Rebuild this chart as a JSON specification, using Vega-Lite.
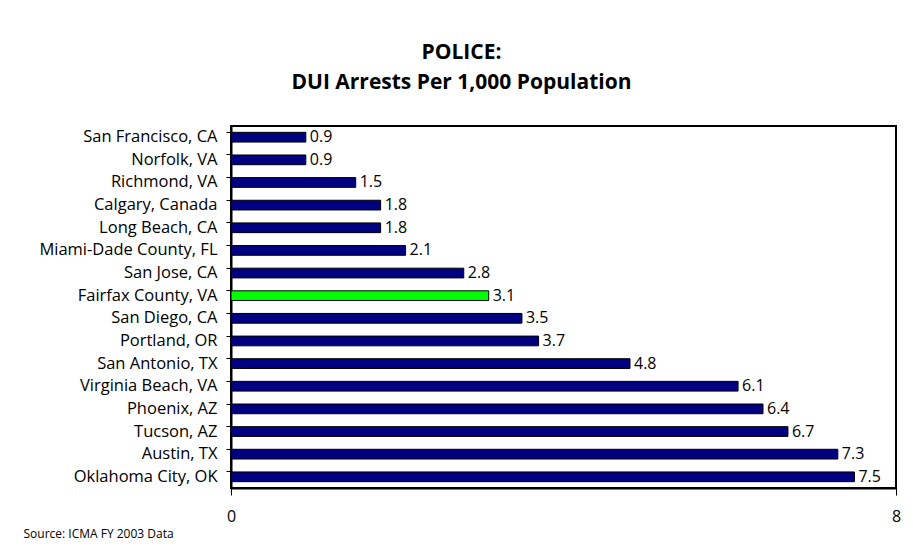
{
  "$schema": "https://vega.github.io/schema/vega-lite/v6.json",
  "autosize": "none",
  "width": 665,
  "height": 362,
  "padding": {"left": 231, "top": 126, "right": 17, "bottom": 58},
  "background": "white",
  "title": {
    "text": ["POLICE:", "DUI Arrests Per 1,000 Population"],
    "anchor": "middle",
    "frame": "group",
    "dx": -102,
    "offset": 33,
    "fontSize": 21,
    "lineHeight": 30,
    "font": "Open Sans",
    "fontWeight": "bold",
    "color": "black"
  },
  "data": {
    "values": [
      {"city": "San Francisco, CA", "value": 0.9, "highlight": "no"},
      {"city": "Norfolk, VA", "value": 0.9, "highlight": "no"},
      {"city": "Richmond, VA", "value": 1.5, "highlight": "no"},
      {"city": "Calgary, Canada", "value": 1.8, "highlight": "no"},
      {"city": "Long Beach, CA", "value": 1.8, "highlight": "no"},
      {"city": "Miami-Dade County, FL", "value": 2.1, "highlight": "no"},
      {"city": "San Jose, CA", "value": 2.8, "highlight": "no"},
      {"city": "Fairfax County, VA", "value": 3.1, "highlight": "yes"},
      {"city": "San Diego, CA", "value": 3.5, "highlight": "no"},
      {"city": "Portland, OR", "value": 3.7, "highlight": "no"},
      {"city": "San Antonio, TX", "value": 4.8, "highlight": "no"},
      {"city": "Virginia Beach, VA", "value": 6.1, "highlight": "no"},
      {"city": "Phoenix, AZ", "value": 6.4, "highlight": "no"},
      {"city": "Tucson, AZ", "value": 6.7, "highlight": "no"},
      {"city": "Austin, TX", "value": 7.3, "highlight": "no"},
      {"city": "Oklahoma City, OK", "value": 7.5, "highlight": "no"}
    ]
  },
  "encoding": {
    "y": {
      "field": "city",
      "type": "nominal",
      "sort": null,
      "scale": {"paddingInner": 0.57, "paddingOuter": 0.28},
      "axis": {
        "title": null,
        "bandPosition": 0,
        "tickSize": 5,
        "tickColor": "black",
        "tickWidth": 1,
        "domainColor": "black",
        "domainWidth": 2,
        "labelFont": "Open Sans",
        "labelFontSize": 16.5,
        "labelColor": "black",
        "labelPadding": 9
      }
    },
    "x": {
      "field": "value",
      "type": "quantitative",
      "scale": {"domain": [0, 8], "nice": false},
      "axis": {
        "values": [0, 8],
        "grid": false,
        "tickSize": 7,
        "tickColor": "black",
        "domainColor": "black",
        "domainWidth": 2,
        "labelFont": "Open Sans",
        "labelFontSize": 16,
        "labelColor": "black",
        "labelPadding": 13,
        "labelFlush": false,
        "title": "Source: ICMA FY 2003 Data",
        "titleFont": "Open Sans",
        "titleFontSize": 12,
        "titleFontWeight": "normal",
        "titleColor": "black",
        "titleAnchor": "start",
        "titleAlign": "left",
        "titleBaseline": "alphabetic",
        "titleX": -208,
        "titleY": 49
      }
    }
  },
  "layer": [
    {
      "mark": {"type": "bar", "stroke": "black", "strokeWidth": 1},
      "encoding": {
        "color": {
          "field": "highlight",
          "type": "nominal",
          "scale": {"domain": ["no", "yes"], "range": ["#000080", "#00FF00"]},
          "legend": null
        }
      }
    },
    {
      "mark": {"type": "text", "align": "left", "baseline": "middle", "dx": 4, "font": "Open Sans", "fontSize": 16, "color": "black"},
      "encoding": {"text": {"field": "value", "type": "quantitative", "format": ".1f"}}
    }
  ],
  "config": {
    "view": {"stroke": "black", "strokeWidth": 2}
  }
}
